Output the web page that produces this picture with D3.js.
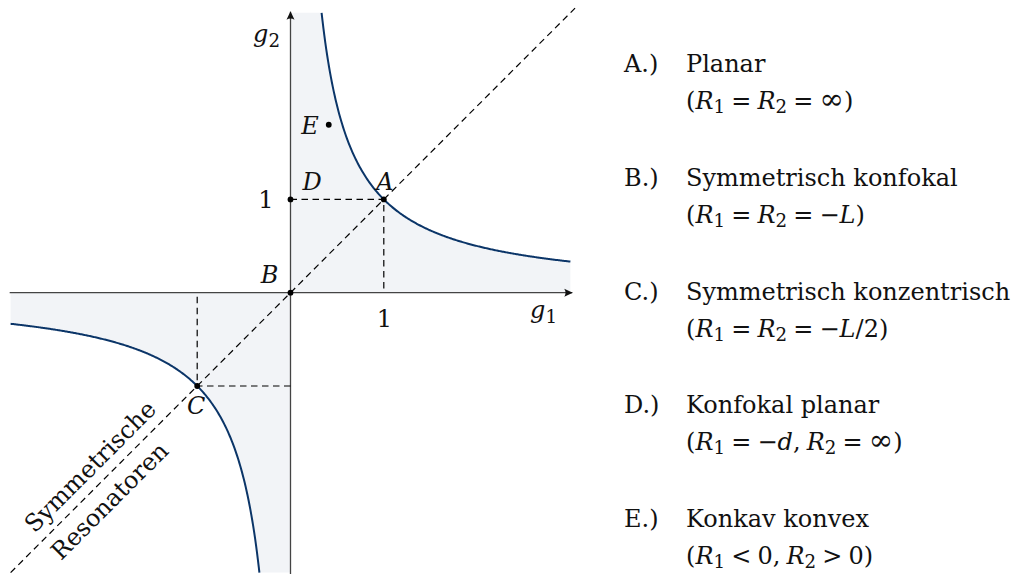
<!DOCTYPE html>
<html>
<head>
<meta charset="utf-8">
<script src="https://cdn.jsdelivr.net/npm/d3@7"></script>
<style>
  body { margin: 0; background: #fff; }
  svg { display: block; }
  text { font-family: "DejaVu Serif", serif; fill: #111; }
</style>
</head>
<body>
<svg id="chart" width="1011" height="574"></svg>
<script>
// ---- data ----------------------------------------------------------
// plotted range of the g-parameters
const gMin = -3, gMax = 3;
const xTicks = [1];
const yTicks = [1];

// special resonator configurations in the (g1, g2) plane
const pointNames = ["A", "B", "C", "D", "E"];
const pointG1 = [1, 0, -1, 0, 0.41];
const pointG2 = [1, 0, -1, 1, 1.8];

// legend entries; conditions are lists of [text, style] runs
// style: "" upright, "i" italic, "s" subscript, "inf" infinity sign
const legendKeys = ["A.)", "B.)", "C.)", "D.)", "E.)"];
const legendNames = ["Planar", "Symmetrisch konfokal", "Symmetrisch konzentrisch",
                     "Konfokal planar", "Konkav konvex"];
const legendConds = [
  [["(", ""], ["R", "i"], ["1", "s"], [" = ", ""], ["R", "i"], ["2", "s"], [" = ", ""], ["∞", "inf"], [")", ""]],
  [["(", ""], ["R", "i"], ["1", "s"], [" = ", ""], ["R", "i"], ["2", "s"], [" = −", ""], ["L", "i"], [")", ""]],
  [["(", ""], ["R", "i"], ["1", "s"], [" = ", ""], ["R", "i"], ["2", "s"], [" = −", ""], ["L", "i"], ["/2)", ""]],
  [["(", ""], ["R", "i"], ["1", "s"], [" = −", ""], ["d", "i"], [", ", ""], ["R", "i"], ["2", "s"], [" = ", ""], ["∞", "inf"], [")", ""]],
  [["(", ""], ["R", "i"], ["1", "s"], [" < 0, ", ""], ["R", "i"], ["2", "s"], [" > 0)", ""]]
];

// ---- layout --------------------------------------------------------
const FS = 24;
const svg = d3.select("#chart");
const x = d3.scaleLinear().domain([gMin, gMax]).range([290.5 - 3 * 93.3, 290.5 + 3 * 93.3]);
const y = d3.scaleLinear().domain([gMin, gMax]).range([292.7 + 3 * 93.3, 292.7 - 3 * 93.3]);

// arrow tip for the axes
svg.append("defs").append("marker")
  .attr("id", "tip").attr("markerUnits", "userSpaceOnUse")
  .attr("viewBox", "-9 -5 10 10").attr("refX", 0).attr("refY", 0)
  .attr("markerWidth", 10).attr("markerHeight", 10).attr("orient", "auto")
  .append("path").attr("d", "M0.5,0 L-8,-4 Q-5.5,0 -8,4 Z").attr("fill", "#111");

// stability boundary g1 * g2 = 1
const boundary = g => 1 / g;
const upper = d3.range(1 / gMax, gMax + 1e-9, 0.01).concat([gMax]).map(g => [g, boundary(g)]);
const lower = d3.range(gMin, 1 / gMin + 1e-9, 0.01).concat([1 / gMin]).map(g => [g, boundary(g)]);

const line = d3.line().x(d => x(d[0])).y(d => y(d[1]));

// stable regions (between the axes and the hyperbola)
svg.append("path")
  .attr("d", line([[0, 0], [0, gMax]].concat(upper, [[gMax, 0]])) + "Z")
  .attr("fill", "#f2f4f7");
svg.append("path")
  .attr("d", line([[0, 0], [gMin, 0]].concat(lower, [[0, gMin]])) + "Z")
  .attr("fill", "#f2f4f7");

// axes
svg.append("line")
  .attr("x1", x(-3.01)).attr("y1", y(0)).attr("x2", x(3.02)).attr("y2", y(0))
  .attr("stroke", "#444").attr("stroke-width", 1.3).attr("marker-end", "url(#tip)");
svg.append("line")
  .attr("x1", x(0)).attr("y1", y(-3.02)).attr("x2", x(0)).attr("y2", y(3.01))
  .attr("stroke", "#444").attr("stroke-width", 1.3).attr("marker-end", "url(#tip)");

const xAxis = svg.append("g").attr("transform", `translate(0,${y(0)})`)
  .call(d3.axisBottom(x).tickValues(xTicks).tickSize(0).tickPadding(17).tickFormat(d3.format("d")));
const yAxis = svg.append("g").attr("transform", `translate(${x(0)},0)`)
  .call(d3.axisLeft(y).tickValues(yTicks).tickSize(0).tickPadding(17).tickFormat(d3.format("d")));
[xAxis, yAxis].forEach(a => {
  a.select(".domain").remove();
  a.selectAll("text").attr("font-family", "DejaVu Serif, serif").attr("font-size", FS).attr("fill", "#111");
});

// dashed guides
const dash = { stroke: "#000", "stroke-width": 1.2, "stroke-dasharray": "6.5,4.5", fill: "none" };
function dashed(pts) {
  const p = svg.append("path").attr("d", line(pts));
  Object.entries(dash).forEach(([k, v]) => p.attr(k, v));
}
dashed([[-3.0, -3.0], [3.05, 3.05]]);
dashed([[0, pointG2[0]], [pointG1[0], pointG2[0]], [pointG1[0], 0]]);
dashed([[0, pointG2[2]], [pointG1[2], pointG2[2]], [pointG1[2], 0]]);

// hyperbola branches
[upper, lower].forEach(b => svg.append("path").attr("d", line(b))
  .attr("fill", "none").attr("stroke", "#0b3568").attr("stroke-width", 2));

// points and their letters
const labelPlace = {
  A: { dx: 1, dy: -9, anchor: "middle" },
  B: { dx: -12, dy: -10, anchor: "end" },
  C: { dx: -1, dy: 28, anchor: "middle" },
  D: { dx: 12, dy: -9, anchor: "start" },
  E: { dx: -10, dy: 9, anchor: "end" }
};
pointNames.forEach((n, i) => {
  const px = x(pointG1[i]), py = y(pointG2[i]);
  svg.append("circle").attr("cx", px).attr("cy", py).attr("r", 2.9).attr("fill", "#000");
  const lp = labelPlace[n];
  svg.append("text").attr("x", px + lp.dx).attr("y", py + lp.dy)
    .attr("text-anchor", lp.anchor).attr("font-size", FS).attr("font-style", "italic").text(n);
});

// rich text helper: italic runs and subscripts
function rich(t, runs, sub) {
  let shifted = false;
  runs.forEach(([s, k]) => {
    const ts = t.append("tspan").text(s);
    if (k === "i") ts.attr("font-style", "italic");
    if (k === "inf") ts.attr("font-size", FS * 1.22);
    if (k === "s") {
      ts.attr("font-size", FS * 0.76).attr("dy", shifted ? 0 : sub);
      shifted = true;
    } else if (shifted) {
      ts.attr("dy", -sub);
      shifted = false;
    }
  });
}

// axis titles
rich(svg.append("text").attr("x", 253).attr("y", 42).attr("font-size", FS),
     [["g", "i"], ["2", "s"]], 5);
rich(svg.append("text").attr("x", 530).attr("y", 318).attr("font-size", FS),
     [["g", "i"], ["1", "s"]], 4.5);

// diagonal caption
const cap = svg.append("g")
  .attr("transform", `translate(${x(-2.045)},${y(-2.045)}) rotate(-45)`);
cap.append("text").attr("x", 5.3).attr("y", -10.5).attr("text-anchor", "middle")
  .attr("font-size", FS).text("Symmetrische");
cap.append("text").attr("x", -5.3).attr("y", 27.5).attr("text-anchor", "middle")
  .attr("font-size", FS).text("Resonatoren");

// legend
legendKeys.forEach((k, i) => {
  const base = 72 + i * 113.75;
  svg.append("text").attr("x", 624).attr("y", base).attr("font-size", FS).text(k);
  svg.append("text").attr("x", 686).attr("y", base).attr("font-size", FS).text(legendNames[i]);
  rich(svg.append("text").attr("x", 686).attr("y", base + 37).attr("font-size", FS)
         .attr("word-spacing", -1.5),
       legendConds[i], 4);
});
</script>
</body>
</html>
